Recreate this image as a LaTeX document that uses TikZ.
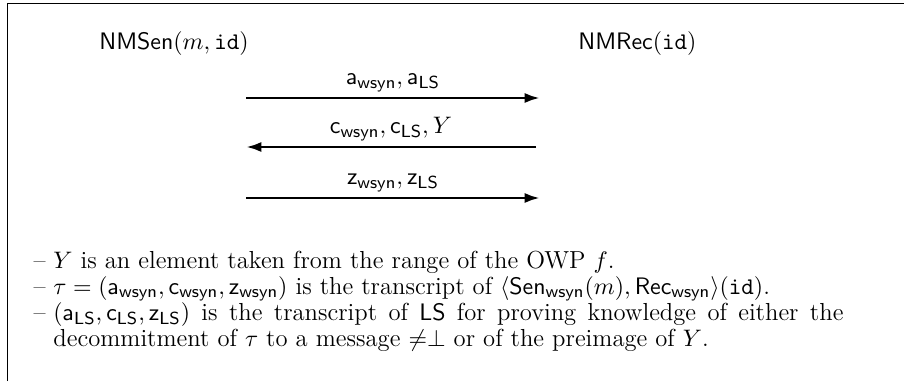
\documentclass[tikz,border=0pt]{standalone}
\usetikzlibrary{arrows.meta}
\newcommand{\itemdash}{\llap{\textendash\hspace{3.5pt}}}
\begin{document}
\begin{tikzpicture}[x=0.4587pt,y=-0.4587pt,
  party/.style={inner sep=0pt, anchor=base west, font=\fontsize{10.95pt}{13.6pt}\selectfont},
  msg/.style={line width=1.3pt, -{Latex[length=7pt,width=4.6pt]}},
  msglabel/.style={inner sep=0pt, anchor=base, yshift=6pt, font=\fontsize{10.95pt}{13.6pt}\selectfont},
  noteline/.style={inner sep=0pt, anchor=base west, font=\fontsize{11.3pt}{12pt}\selectfont},
  frame/.style={line width=0.5pt}]
\useasboundingbox (0,0) rectangle (904,381);
% frame (cropped box)
\draw[frame] (7.5,381) |- (904,3.5);
% parties
\node[party] (sen) at (99,50) {$\mathsf{NMSen}(m,\mathtt{id})$};
\node[party] (rec) at (578,50) {$\mathsf{NMRec}(\mathtt{id})$};
% message end points
\coordinate (a1) at (246,98);  \coordinate (b1) at (540,98);
\coordinate (a2) at (536,147); \coordinate (b2) at (246,147);
\coordinate (a3) at (246,198); \coordinate (b3) at (540,198);
\draw[msg] (a1) -- node[msglabel] (l1) {$\mathsf{a}_{\mathsf{wsyn}},\mathsf{a}_{\mathsf{LS}}$} (b1);
\draw[msg] (a2) -- node[msglabel] (l2) {$\mathsf{c}_{\mathsf{wsyn}},\mathsf{c}_{\mathsf{LS}},Y$} (b2);
\draw[msg] (a3) -- node[msglabel] (l3) {$\mathsf{z}_{\mathsf{wsyn}},\mathsf{z}_{\mathsf{LS}}$} (b3);
% notes
\node[noteline] (n1) at (53,268) {\itemdash$Y$ is an element taken from the range of the OWP $f$.};
\node[noteline] (n2) at (53,294.2) {\itemdash$\tau=(\mathsf{a}_{\mathsf{wsyn}},\mathsf{c}_{\mathsf{wsyn}},\mathsf{z}_{\mathsf{wsyn}})$ is the transcript of $\langle\mathsf{Sen}_{\mathsf{wsyn}}(m),\mathsf{Rec}_{\mathsf{wsyn}}\rangle(\mathtt{id})$.};
\node[noteline] (n3) at (53,320.4) {\itemdash\makebox[362.4pt][s]{$(\mathsf{a}_{\mathsf{LS}},\mathsf{c}_{\mathsf{LS}},\mathsf{z}_{\mathsf{LS}})$ is the transcript of $\mathsf{LS}$ for proving knowledge of either the}};
\node[noteline] (n4) at (53,346.6) {decommitment of $\tau$ to a message $\neq\perp$ or of the preimage of $Y$.};
\end{tikzpicture}
\end{document}
